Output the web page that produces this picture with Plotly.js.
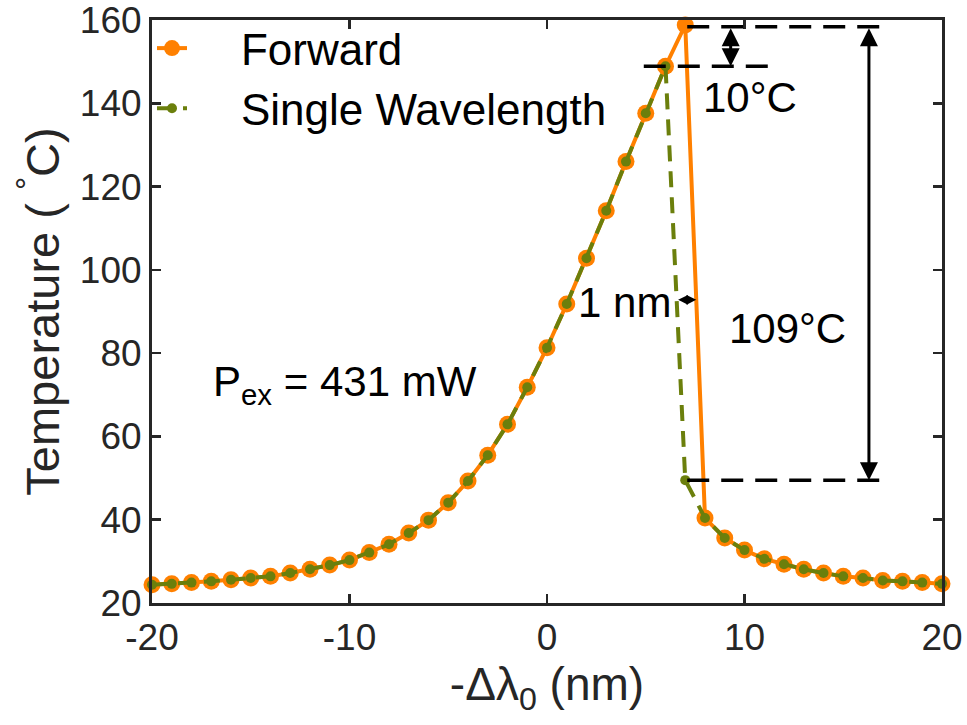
<!DOCTYPE html>
<html>
<head>
<meta charset="utf-8">
<script src="https://cdn.plot.ly/plotly-3.0.1.min.js"></script>
<style>html,body{margin:0;padding:0;background:#fff;}#chart{width:967px;height:725px;}</style>
</head>
<body>
<div id="chart"></div>
<script>
// ---- data ----
const detuning = [-20,-19,-18,-17,-16,-15,-14,-13,-12,-11,-10,-9,-8,-7,-6,-5,-4,-3,-2,-1,0,1,2,3,4,5,6,7,8,9,10,11,12,13,14,15,16,17,18,19,20];
const forwardTemp = [24.4,24.6,24.9,25.2,25.6,26.0,26.4,27.2,28.1,29.1,30.3,32.1,34.1,36.8,39.9,44.1,49.3,55.5,62.9,71.8,
                     81.3,91.8,102.8,114.2,126.0,137.6,148.9,158.8,
                     40.4,35.6,32.7,30.6,29.3,28.1,27.2,26.4,26.0,25.4,25.2,24.9,24.6];
const singleTemp  = [24.4,24.6,24.9,25.2,25.6,26.0,26.4,27.2,28.1,29.1,30.3,32.1,34.1,36.8,39.9,44.1,49.3,55.5,62.9,71.8,
                     81.3,91.8,102.8,114.2,126.0,137.6,148.9,49.5,
                     40.4,35.6,32.7,30.6,29.3,28.1,27.2,26.4,26.0,25.4,25.2,24.9,24.6];
const seriesNames = ['Forward','Single Wavelength'];
const yTicks = [20,40,60,80,100,120,140,160];
const xTicks = [-20,-10,0,10,20];

const ORANGE = '#ff8000';
const GREEN = '#6b7f0c';
const FONT = 'Arial, "Liberation Sans", Helvetica, sans-serif';
const PAD = '\u00a0\u00a0\u00a0\u00a0';

// derived annotation levels
const fwdPeak = Math.max(...forwardTemp);
const iPeak = forwardTemp.indexOf(fwdPeak);
const singlePeak = Math.max(...singleTemp);
const singleDrop = singleTemp[iPeak];
const topLevel = fwdPeak - 0.4;
// 1 nm arrow level
const yArrow = 92.8;
const iS = singleTemp.indexOf(singlePeak);
const xGreen = detuning[iS] + (singlePeak - yArrow)/(singlePeak - singleDrop)*(detuning[iS+1]-detuning[iS]);
const xOrange = detuning[iPeak] + (fwdPeak - yArrow)/(fwdPeak - forwardTemp[iPeak+1])*(detuning[iPeak+1]-detuning[iPeak]);

const traces = [
  {x: detuning, y: forwardTemp, name: PAD + seriesNames[0], type: 'scatter', mode: 'lines+markers',
   line: {color: ORANGE, width: 4}, marker: {color: ORANGE, size: 17}, cliponaxis: false},
  {x: detuning, y: singleTemp, name: PAD + seriesNames[1], type: 'scatter', mode: 'lines+markers',
   line: {color: GREEN, width: 4, dash: '16px,10px'}, marker: {color: GREEN, size: 10}, cliponaxis: false}
];

const dashLine = {color: '#000', width: 3.5, dash: '22px,12px'};
const shapes = [
  {type: 'line', xref: 'x', yref: 'y', x0: 7.1, x1: 16.9, y0: topLevel, y1: topLevel, line: dashLine},
  {type: 'line', xref: 'x', yref: 'y', x0: 4.9, x1: 11.2, y0: singlePeak, y1: singlePeak, line: dashLine},
  {type: 'line', xref: 'x', yref: 'y', x0: 7.1, x1: 16.9, y0: singleDrop, y1: singleDrop, line: dashLine}
];

const annFont = {family: FONT, size: 42, color: '#000'};
const annotations = [
  {xref: 'x', yref: 'y', axref: 'x', ayref: 'y', x: 9.3, y: singlePeak, ax: 9.3, ay: topLevel,
   text: '', showarrow: true, arrowhead: 2, arrowside: 'end+start', arrowsize: 1.2, arrowwidth: 3, arrowcolor: '#000'},
  {xref: 'x', yref: 'y', axref: 'x', ayref: 'y', x: 16.3, y: singleDrop, ax: 16.3, ay: topLevel,
   text: '', showarrow: true, arrowhead: 2, arrowside: 'end+start', arrowsize: 1.2, arrowwidth: 3, arrowcolor: '#000'},
  {xref: 'x', yref: 'y', axref: 'x', ayref: 'y', x: xOrange, y: yArrow, ax: xGreen, ay: yArrow,
   text: '', showarrow: true, arrowhead: 2, arrowside: 'end+start', arrowsize: 1.3, arrowwidth: 1.5, arrowcolor: '#000'},
  {xref: 'x', yref: 'y', x: 10.28, y: 141.5, text: '10°C', showarrow: false, font: annFont},
  {xref: 'x', yref: 'y', x: 12.2, y: 85.8, text: '109°C', showarrow: false, font: annFont},
  {xref: 'x', yref: 'y', x: 6.4, y: 92.2, xanchor: 'right', text: '1 nm', showarrow: false, font: annFont},
  {xref: 'x', yref: 'y', x: -17.0, y: 72.5, xanchor: 'left', text: 'P<sub>ex</sub> = 431 mW', showarrow: false, font: annFont}
];

const axisCommon = {
  showline: true, linecolor: '#262626', linewidth: 3, mirror: 'ticks',
  ticks: 'inside', ticklen: 9, tickwidth: 2.5, tickcolor: '#262626',
  showgrid: false, zeroline: false, ticklabeloverflow: 'allow',
  tickfont: {family: FONT, size: 37, color: '#262626'}
};

const layout = {
  width: 967, height: 725,
  margin: {l: 152, r: 25, t: 20, b: 122},
  paper_bgcolor: '#fff', plot_bgcolor: '#fff',
  font: {family: FONT, color: '#262626'},
  showlegend: true,
  legend: {x: 0.0, y: 1.012, xanchor: 'left', yanchor: 'top', bgcolor: 'rgba(0,0,0,0)',
           font: {family: FONT, size: 44, color: '#000'}, tracegroupgap: 0},
  xaxis: Object.assign({}, axisCommon, {range: [-20, 20], tickvals: xTicks, ticktext: xTicks.map(String),
    title: {text: '-Δλ<sub>0</sub> (nm)', font: {family: FONT, size: 46, color: '#262626'}, standoff: 4}}),
  yaxis: Object.assign({}, axisCommon, {range: [20, 160], tickvals: yTicks, ticktext: yTicks.map(String),
    title: {text: 'Temperature ( <sup>°</sup>C)', font: {family: FONT, size: 47, color: '#262626'}, standoff: 6}}),
  shapes: shapes,
  annotations: annotations
};

Plotly.newPlot('chart', traces, layout, {displayModeBar: false, staticPlot: true});
</script>
</body>
</html>
